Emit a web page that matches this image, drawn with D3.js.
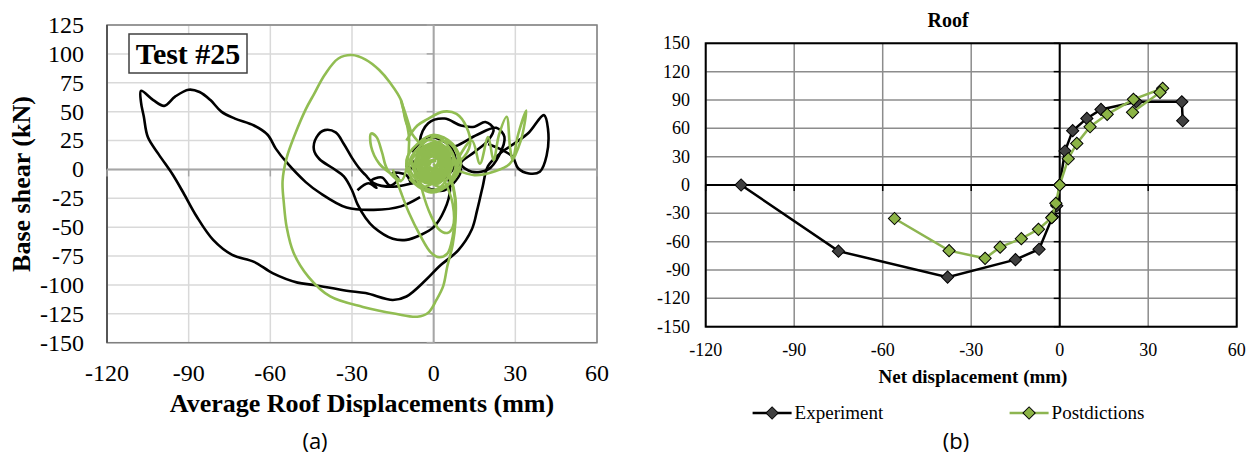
<!DOCTYPE html>
<html>
<head>
<meta charset="utf-8">
<script src="https://cdn.jsdelivr.net/npm/d3@7"></script>
<style>
  body { margin: 0; background: #fff; }
  svg { display: block; }
</style>
</head>
<body>
<svg id="fig" width="1258" height="461"></svg>
<script>
// ---------- data: panel (a) hysteresis traces (mm, kN) ----------
const xTicks = [-120, -90, -60, -30, 0, 30, 60];
const yTicksA = [125, 100, 75, 50, 25, 0, -25, -50, -75, -100, -125, -150];
const yTicksB = [150, 120, 90, 60, 30, 0, -30, -60, -90, -120, -150];

const blackOuter = [[-5,-24],[-12,-32],[-22,-35],[-32,-33],[-42,-20],[-47,-11],[-54,6],[-58,18],[-61,30],[-66,38],[-73,44],[-78,50],[-82,60],[-86,67],[-90,69],[-95,63],[-99,55],[-103,60],[-107.5,68],[-107.5,58],[-106.5,46],[-105,28],[-101,13],[-96,-4],[-92,-20],[-87,-41],[-81,-61],[-74,-74],[-66,-80],[-59,-90],[-50,-98],[-44,-100],[-32,-105],[-25,-107],[-15,-113],[-10,-110],[-3,-96],[2,-84],[9,-70],[14,-52],[16,-35],[18,-15],[20,3],[25,15],[30,23],[35,32],[40.5,47],[42,35],[41.5,12],[39,-2],[35,-3.5],[31,1],[29,11],[25,17],[20,22]];
const blackInner = [[-5,-10],[-15,-15],[-22,-12],[-25,-5],[-27,0],[-30,10],[-33,22],[-36,32],[-40,34],[-43,28],[-44,17],[-42,9],[-37,1],[-33,-6],[-30,-18],[-28,-30],[-25,-42],[-22,-50],[-15,-60],[-10,-61],[-5,-57],[0,-50],[4,-35],[6,-18],[5,-5]];
const blackRight = [[-3,10],[-5,25],[-2,40],[4,44],[10,38],[15,37],[19,41],[22,35],[20,25],[15,15],[10,5],[14,-2],[20,0],[24,12],[26,28],[23,36],[16,30],[8,20],[0,15]];
const blackSquiggle = [[-28,-18],[-24,-12],[-21,-16],[-23,-10],[-19,-7],[-16,-14],[-13,-8],[-15,-3],[-10,-5],[-8,-12],[-5,-2],[-10,3],[-6,8]];
const blackCore = [[-8,15],[-2,28],[6,20],[8,5],[2,-10],[-6,-5],[-4,10],[4,12],[10,0],[4,-18],[-4,-15]];

const greenOuter = [[3,10],[-6,25],[-10,40],[-12,60],[-16,75],[-20,86],[-25,95],[-30,99],[-35,96],[-40,82],[-44,65],[-47,52],[-51,30],[-54,10],[-55.5,-10],[-55,-30],[-54,-50],[-51.5,-72],[-46,-93],[-38,-110],[-26,-119],[-14,-125],[-6,-127.5],[-2,-124],[1,-113],[3.5,-101],[5,-84],[7,-65],[8,-45],[8,-25],[6,-5],[3,10]];
const greenDrop1 = [[-15,0],[-12,-20],[-9,-38],[-5,-57],[-1,-72],[2,-76],[5,-73],[7,-58],[8,-35],[7,-15],[4,0]];
const greenDrop2 = [[-6,5],[-4,-20],[-1,-40],[2,-52],[5,-55],[7,-50],[7,-30],[4,-10],[0,5]];
const greenLeft = [[-12,-10],[-15,-5],[-20,5],[-23,20],[-23,31],[-21,28],[-19,15],[-17,0],[-12,-10],[-9,25],[-12,60],[-8,30]];
const greenTop = [[-10,25],[-6,38],[-2.6,43],[3.6,50],[8.4,48],[12,37],[13.4,22],[10,8],[3,0]];
const greenZigzag = [[8,5],[14,25],[17,5],[20,28],[22,8],[24,30],[26.8,45.6],[28,20],[29,8],[31,30],[34,51],[32,25],[28,5],[22,-2],[15,-5],[8,0]];
const greenCore = [[0,0],[-6,12],[-3,25],[4,20],[6,5],[2,-12],[-5,-8],[-8,8],[-2,18],[5,10],[3,-5],[-4,-15],[-7,0],[-4,15],[2,22],[7,12],[5,-8],[0,-18],[-6,-10],[-9,5],[-5,20],[1,28],[6,18],[8,2],[4,-15],[-2,-10],[-6,3],[-3,12],[3,8],[1,-3],[-3,5],[0,14],[4,4],[-1,-6],[-5,6],[-2,20],[5,24],[9,10],[6,-12],[-1,-20],[-8,-8],[-10,8],[-6,22],[0,30],[7,22],[10,5],[6,-12],[-3,-18],[-9,-8]];
const greenDense = [[-1,4],[-4,10],[-2,16],[2,14],[4,6],[1,-2],[-3,-4],[-5,4],[-3,12],[1,18],[4,12],[3,2],[-1,-8],[-4,-2],[-6,8],[-4,18],[0,20],[3,14],[5,4],[2,-6],[-2,-10],[-5,-4],[-4,6],[-1,12],[2,8],[0,0],[-3,2],[-2,10],[1,12],[3,4],[0,-4],[-4,0],[-6,12],[-3,20],[2,22],[5,14],[6,2],[3,-8],[-1,-12],[-5,-8],[-7,2],[-5,14],[-1,22],[4,18],[6,8],[4,-4],[0,-8],[-3,-2],[-2,6],[1,8]];

// ---------- data: panel (b) roof ----------
const expX = [-108, -75, -38, -15, -7, -2.4, -1, 0, 1.8, 4.4, 9.2, 14, 26, 41.4, 41.7];
const expY = [0, -70, -97.5, -79, -68, -33.5, -22, 0, 36, 57.5, 70.5, 80, 88, 88, 68];
const postX = [-56, -37.5, -25.3, -20.2, -13, -7.2, -2.7, -1.3, 0, 2.9, 5.8, 10.3, 16.1, 25, 34.9, 34, 24.7];
const postY = [-35.5, -69.5, -77.6, -65.8, -56.8, -46.9, -34.6, -19.4, 0, 27.8, 44, 61.7, 74.8, 90.7, 102.3, 98, 76.9];

const svg = d3.select("#fig");
const serif = "'Liberation Serif', 'Times New Roman', serif";

// ================= panel (a) =================
{
    const x = d3.scaleLinear().domain([-120, 60]).range([107, 597]);
    const y = d3.scaleLinear().domain([-150, 125]).range([342.7, 25]);
    const g = svg.append("g");

    g.selectAll(".gx").data(xTicks).join("line")
        .attr("x1", d => x(d)).attr("x2", d => x(d))
        .attr("y1", y(125)).attr("y2", y(-150))
        .attr("stroke", "#d9d9d9").attr("stroke-width", 1.5);
    g.selectAll(".gy").data(yTicksA).join("line")
        .attr("x1", x(-120)).attr("x2", x(60))
        .attr("y1", d => y(d)).attr("y2", d => y(d))
        .attr("stroke", "#d9d9d9").attr("stroke-width", 1.5);

    g.append("rect").attr("x", x(-120)).attr("y", y(125))
        .attr("width", x(60) - x(-120)).attr("height", y(-150) - y(125))
        .attr("fill", "none").attr("stroke", "#808080").attr("stroke-width", 1.5);
    g.append("line").attr("x1", x(-120)).attr("x2", x(-120)).attr("y1", y(125)).attr("y2", y(-150))
        .attr("stroke", "#404040").attr("stroke-width", 1.5);

    // axes through zero
    g.append("line").attr("x1", x(-120)).attr("x2", x(60)).attr("y1", y(0)).attr("y2", y(0))
        .attr("stroke", "#a6a6a6").attr("stroke-width", 2);
    g.append("line").attr("x1", x(0)).attr("x2", x(0)).attr("y1", y(125)).attr("y2", y(-150))
        .attr("stroke", "#a6a6a6").attr("stroke-width", 2);
    g.selectAll(".tx").data(xTicks).join("line")
        .attr("x1", d => x(d)).attr("x2", d => x(d)).attr("y1", y(0)).attr("y2", y(0) + 7)
        .attr("stroke", "#a6a6a6").attr("stroke-width", 1.5);
    g.selectAll(".ty").data(yTicksA).join("line")
        .attr("x1", x(0) - 7).attr("x2", x(0)).attr("y1", d => y(d)).attr("y2", d => y(d))
        .attr("stroke", "#a6a6a6").attr("stroke-width", 1.5);

    g.selectAll(".lx").data(xTicks).join("text")
        .attr("x", d => x(d)).attr("y", 381)
        .attr("text-anchor", "middle").style("font-family", serif).attr("font-size", 24)
        .text(d => d);
    g.selectAll(".ly").data(yTicksA).join("text")
        .attr("x", 84).attr("y", d => y(d)).attr("dy", "0.33em")
        .attr("text-anchor", "end").style("font-family", serif).attr("font-size", 24)
        .text(d => d);

    g.append("text").attr("x", 362).attr("y", 412)
        .attr("text-anchor", "middle").style("font-family", serif).attr("font-size", 26)
        .attr("font-weight", "bold").text("Average Roof Displacements (mm)");
    g.append("text").attr("transform", "translate(30,184) rotate(-90)")
        .attr("text-anchor", "middle").style("font-family", serif).attr("font-size", 26)
        .attr("font-weight", "bold").text("Base shear (kN)");

    const line = d3.line().x(d => x(d[0])).y(d => y(d[1])).curve(d3.curveCatmullRom.alpha(0.5));
    const blacks = [blackOuter, blackInner, blackRight, blackSquiggle, blackCore];
    const greens = [greenOuter, greenDrop1, greenDrop2, greenLeft, greenTop, greenZigzag, greenCore];
    g.selectAll(".bk").data(blacks).join("path")
        .attr("d", line).attr("fill", "none").attr("stroke", "#000")
        .attr("stroke-width", 2.6).attr("stroke-linejoin", "round");
    g.selectAll(".gr").data(greens).join("path")
        .attr("d", line).attr("fill", "none").attr("stroke", "#91bd52")
        .attr("stroke-width", 2.6).attr("stroke-linejoin", "round");
    g.append("path").attr("d", line(greenDense)).attr("fill", "none")
        .attr("stroke", "#8fbb4f").attr("stroke-width", 4).attr("stroke-linejoin", "round");

    // label box
    g.append("rect").attr("x", 129).attr("y", 34).attr("width", 118).attr("height", 39)
        .attr("fill", "#fff").attr("stroke", "#404040").attr("stroke-width", 1.5);
    g.append("text").attr("x", 188).attr("y", 64).attr("text-anchor", "middle")
        .style("font-family", serif).attr("font-size", 30).attr("font-weight", "bold").text("Test #25");

    g.append("text").attr("x", 315).attr("y", 449).attr("text-anchor", "middle")
        .style("font-family", "'Open Sans', sans-serif").attr("font-size", 22).text("(a)");
}

// ================= panel (b) =================
{
    const x = d3.scaleLinear().domain([-120, 60]).range([705.7, 1236.7]);
    const y = d3.scaleLinear().domain([-150, 150]).range([326.7, 43.3]);
    const g = svg.append("g");

    g.selectAll(".gx").data(xTicks).join("line")
        .attr("x1", d => x(d)).attr("x2", d => x(d)).attr("y1", y(150)).attr("y2", y(-150))
        .attr("stroke", "#8c8c8c").attr("stroke-width", 1.5);
    g.selectAll(".gy").data(yTicksB).join("line")
        .attr("x1", x(-120)).attr("x2", x(60)).attr("y1", d => y(d)).attr("y2", d => y(d))
        .attr("stroke", "#8c8c8c").attr("stroke-width", 1.5);
    g.append("rect").attr("x", x(-120)).attr("y", y(150))
        .attr("width", x(60) - x(-120)).attr("height", y(-150) - y(150))
        .attr("fill", "none").attr("stroke", "#000").attr("stroke-width", 2);

    g.append("line").attr("x1", x(-120)).attr("x2", x(60)).attr("y1", y(0)).attr("y2", y(0))
        .attr("stroke", "#000").attr("stroke-width", 2);
    g.append("line").attr("x1", x(0)).attr("x2", x(0)).attr("y1", y(150)).attr("y2", y(-150))
        .attr("stroke", "#000").attr("stroke-width", 2);
    g.selectAll(".tx").data(xTicks).join("line")
        .attr("x1", d => x(d)).attr("x2", d => x(d)).attr("y1", y(0)).attr("y2", y(0) + 6)
        .attr("stroke", "#000").attr("stroke-width", 1.5);
    g.selectAll(".ty").data(yTicksB).join("line")
        .attr("x1", x(0) - 6).attr("x2", x(0)).attr("y1", d => y(d)).attr("y2", d => y(d))
        .attr("stroke", "#000").attr("stroke-width", 1.5);

    g.selectAll(".lx").data(xTicks).join("text")
        .attr("x", d => x(d)).attr("y", 356)
        .attr("text-anchor", "middle").style("font-family", serif).attr("font-size", 18)
        .text(d => d);
    g.selectAll(".ly").data(yTicksB).join("text")
        .attr("x", 690).attr("y", d => y(d)).attr("dy", "0.33em")
        .attr("text-anchor", "end").style("font-family", serif).attr("font-size", 18)
        .text(d => d);

    g.append("text").attr("x", 948).attr("y", 27).attr("text-anchor", "middle")
        .style("font-family", serif).attr("font-size", 20).attr("font-weight", "bold").text("Roof");
    g.append("text").attr("x", 973).attr("y", 383).attr("text-anchor", "middle")
        .style("font-family", serif).attr("font-size", 19).attr("font-weight", "bold").text("Net displacement (mm)");

    const diamond = d3.symbol().type(d3.symbolSquare).size(75);
    const series = [
        {name: "Experiment", xs: expX, ys: expY, line: "#000", fill: "#404040"},
        {name: "Postdictions", xs: postX, ys: postY, line: "#8db550", fill: "#8cb446"}
    ];
    const line = d3.line().x(d => x(d[0])).y(d => y(d[1]));
    series.forEach(s => {
        const pts = s.xs.map((v, i) => [v, s.ys[i]]);
        g.append("path").attr("d", line(pts)).attr("fill", "none")
            .attr("stroke", s.line).attr("stroke-width", 2.5);
        g.selectAll(null).data(pts).join("path")
            .attr("d", diamond)
            .attr("transform", d => `translate(${x(d[0])},${y(d[1])}) rotate(45)`)
            .attr("fill", s.fill).attr("stroke", "#000").attr("stroke-width", 1);
    });

    // legend
    const legendX = [752.6, 1009.6];
    series.forEach((s, i) => {
        const lx = legendX[i];
        g.append("line").attr("x1", lx).attr("x2", lx + 39).attr("y1", 413).attr("y2", 413)
            .attr("stroke", s.line).attr("stroke-width", 2.5);
        g.append("path").attr("d", diamond)
            .attr("transform", `translate(${lx + 19.5},413) rotate(45)`)
            .attr("fill", s.fill).attr("stroke", "#000").attr("stroke-width", 1);
        g.append("text").attr("x", lx + 42).attr("y", 419)
            .style("font-family", serif).attr("font-size", 19).text(s.name);
    });

    g.append("text").attr("x", 956).attr("y", 449).attr("text-anchor", "middle")
        .style("font-family", "'Open Sans', sans-serif").attr("font-size", 22).text("(b)");
}
</script>
</body>
</html>
